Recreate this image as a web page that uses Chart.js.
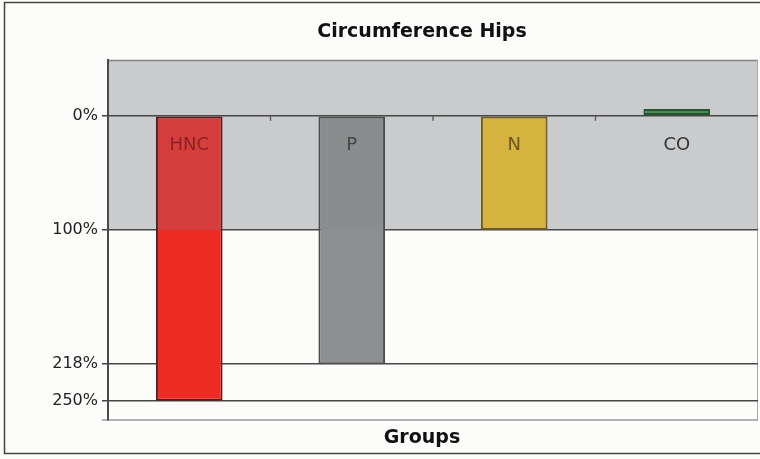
<!DOCTYPE html>
<html>
<head>
<meta charset="utf-8">
<script src="https://cdn.jsdelivr.net/npm/chart.js@4.4.1/dist/chart.umd.min.js"></script>
<style>
html,body{margin:0;padding:0;background:#fcfcfa;}
#wrap{width:760px;height:459px;position:relative;}
</style>
</head>
<body>
<div id="wrap"><canvas id="c" width="760" height="459"></canvas></div>
<script>
const categories = ["HNC", "P", "N", "CO"];
const values = [250, 218, 100, -6];
const tickValues = [0, 100, 218, 250];
const axisMin = -49;
const axisMax = 267;
const bandEnd = 100;
const chartTitle = "Circumference Hips";
const xTitle = "Groups";

const colorsBand  = ["#d63e3d", "#8a8c8e", "#d6b23f", "#4b8b53"];
const colorsBelow = ["#ee2b25", "#8c8e90", "#d6b23f", "#4b8b53"];
const borderCols  = ["#5e1816", "#4a4c4e", "#6e5e26", "#2a5230"];
const labelCols   = ["#8a2222", "#444444", "#6a5520", "#333333"];

function barFill(ctx) {
  const chart = ctx.chart;
  const i = ctx.dataIndex;
  const area = chart.chartArea;
  if (!area || !chart.scales.y) return colorsBelow[i];
  const yb = chart.scales.y.getPixelForValue(bandEnd);
  let f = (yb - area.top) / (area.bottom - area.top);
  f = Math.min(1, Math.max(0, f));
  const g = chart.ctx.createLinearGradient(0, area.top, 0, area.bottom);
  g.addColorStop(0, colorsBand[i]);
  g.addColorStop(f, colorsBand[i]);
  g.addColorStop(f, colorsBelow[i]);
  g.addColorStop(1, colorsBelow[i]);
  return g;
}

const decor = {
  id: 'decor',
  beforeDraw(chart) {
    const c = chart.ctx, a = chart.chartArea, y = chart.scales.y;
    c.save();
    c.fillStyle = '#fcfcfa';
    c.fillRect(0, 0, chart.width, chart.height);
    const yTop = y.getPixelForValue(axisMin);
    const yBand = y.getPixelForValue(bandEnd);
    c.fillStyle = '#c9cbcd';
    c.fillRect(a.left, yTop, a.right - a.left, yBand - yTop);
    c.strokeStyle = '#808284';
    c.lineWidth = 1.5;
    c.beginPath();
    c.moveTo(a.left, yTop + 0.5); c.lineTo(a.right, yTop + 0.5);
    c.stroke();
    c.strokeStyle = '#a8aaac';
    c.lineWidth = 1;
    c.beginPath();
    c.moveTo(a.right - 0.5, yTop); c.lineTo(a.right - 0.5, a.bottom);
    c.stroke();
    c.strokeStyle = '#9a9a9a';
    c.lineWidth = 1.5;
    c.beginPath();
    c.moveTo(a.left - 6, a.bottom); c.lineTo(a.right, a.bottom);
    c.stroke();
    c.restore();
  },
  afterDatasetsDraw(chart) {
    const c = chart.ctx, a = chart.chartArea, x = chart.scales.x, y = chart.scales.y;
    const y0 = y.getPixelForValue(0);
    c.save();
    c.strokeStyle = '#555';
    c.lineWidth = 1.3;
    for (let i = 0; i < categories.length - 1; i++) {
      const xb = (x.getPixelForValue(i) + x.getPixelForValue(i + 1)) / 2;
      c.beginPath();
      c.moveTo(xb, y0); c.lineTo(xb, y0 + 5);
      c.stroke();
    }
    c.font = '18px "DejaVu Sans"';
    c.textAlign = 'center';
    c.textBaseline = 'middle';
    categories.forEach((lab, i) => {
      c.fillStyle = labelCols[i];
      c.fillText(lab, x.getPixelForValue(i), y0 + 30);
    });
    const cx = (a.left + a.right) / 2 - 11;
    c.fillStyle = '#111';
    c.font = 'bold 19px "DejaVu Sans"';
    c.fillText(chartTitle, cx, 32);
    c.fillText(xTitle, cx, a.bottom + 18);
    c.strokeStyle = '#444';
    c.lineWidth = 1.5;
    c.strokeRect(4.5, 2.5, 800, 451);
    c.restore();
  }
};

new Chart(document.getElementById('c'), {
  type: 'bar',
  data: {
    labels: categories,
    datasets: [{
      data: values,
      backgroundColor: barFill,
      borderColor: borderCols,
      borderWidth: 2,
      borderSkipped: false,
      barPercentage: 0.82,
      categoryPercentage: 0.5
    }]
  },
  options: {
    responsive: false,
    animation: false,
    events: [],
    layout: { padding: { left: 0, top: 60, right: 2, bottom: 39 } },
    plugins: { legend: { display: false }, title: { display: false }, tooltip: { enabled: false } },
    scales: {
      x: { display: false },
      y: {
        reverse: true,
        min: axisMin,
        max: axisMax,
        afterBuildTicks(scale) { scale.ticks = tickValues.map(v => ({ value: v })); },
        afterFit(scale) { scale.width = 108; },
        grid: { color: '#474747', lineWidth: 1.5, tickLength: 6, tickColor: '#474747', drawOnChartArea: true },
        border: { display: true, color: '#4a4a4a', width: 2 },
        ticks: {
          padding: 4,
          color: '#222',
          font: { family: 'DejaVu Sans', size: 16 },
          callback: v => v + '%'
        }
      }
    }
  },
  plugins: [decor]
});
</script>
</body>
</html>
